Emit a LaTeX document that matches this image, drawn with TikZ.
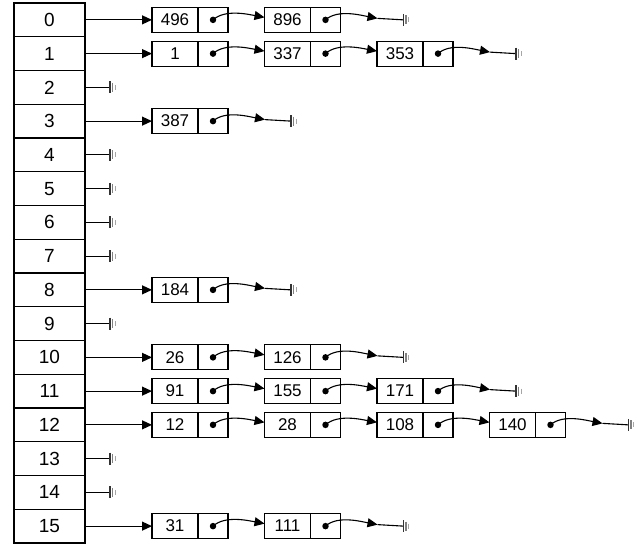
\documentclass[tikz,border=0pt]{standalone}
\usepackage{fontspec}
\setmainfont{Liberation Sans}
\usetikzlibrary{arrows.meta}
\tikzset{ground/.pic={
    \draw[gray!40!black,line width=1.3pt] (0,-6) -- (0,6);
    \draw[gray,line width=1.3pt] (2.6,-4.5) -- (2.6,4.5);
    \draw[gray!70,line width=1.3pt] (5.2,-2.5) -- (5.2,2.5);}}
\begin{document}
\begin{tikzpicture}[x=1pt,y=-1pt,line width=1.1pt]
  \tikzstyle{slot}=[draw,minimum width=71pt,minimum height=33.75pt,inner sep=0pt,font=\fontsize{19}{21}\selectfont]
  \tikzstyle{key}=[draw,outer sep=0pt,minimum width=46pt,minimum height=25pt,inner sep=0pt,font=\fontsize{17}{19}\selectfont]
  \tikzstyle{link}=[draw,outer sep=0pt,minimum width=30pt,minimum height=25pt,inner sep=0pt]
  \tikzstyle{dot}=[circle,fill,inner sep=0pt,minimum size=6.5pt]
  \tikzstyle{ptr}=[-{Triangle[length=10pt,width=9pt]}]
  \useasboundingbox (0,0) rectangle (638,545);
  % the table
  \foreach \r in {0,...,15}
    \node[slot] (t\r) at (49.5,{3+33.75*(\r+0.5)}) {\r};
  % empty buckets
  \foreach \r in {2,4,5,6,7,9,13,14} {
    \coordinate (g\r) at (110,{3+33.75*(\r+0.5)});
    \draw (t\r.east) -- (g\r);
    \pic at (g\r) {ground};
  }
  % chained buckets
  \foreach \r/\keys in {0/{496,896},1/{1,337,353},3/{387},8/{184},10/{26,126},
                        11/{91,155,171},12/{12,28,108,140},15/{31,111}} {
    \pgfmathsetmacro\y{3+33.75*(\r+0.5)}
    \foreach \k [count=\j] in \keys {
      \node[key] (v\r-\j) at ({175+112.5*(\j-1)},\y) {\k};
      \node[link,anchor=west] (p\r-\j) at (v\r-\j.east) {};
      \node[dot] (d\r-\j) at (p\r-\j.center) {};
      \ifnum\j=1
        \draw[ptr] (t\r.east) -- (v\r-\j.west);
      \else
        \pgfmathtruncatemacro\jp{\j-1}
        \draw[ptr] (d\r-\jp.center) .. controls +(12,-11) and +(-16,-3) .. ([yshift=2.5pt]v\r-\j.west);
      \fi
      \xdef\last{\j}
    }
    \pgfmathsetmacro\tx{265+112.5*(\last-1)}
    \coordinate (e\r) at (\tx,\y-1.5);
    \coordinate (g\r) at (\tx+26,\y);
    \draw[ptr] (d\r-\last.center) .. controls +(12,-11) and +(-16,-3) .. (e\r);
    \draw (e\r) -- (g\r);
    \pic at (g\r) {ground};
  }
\end{tikzpicture}
\end{document}
